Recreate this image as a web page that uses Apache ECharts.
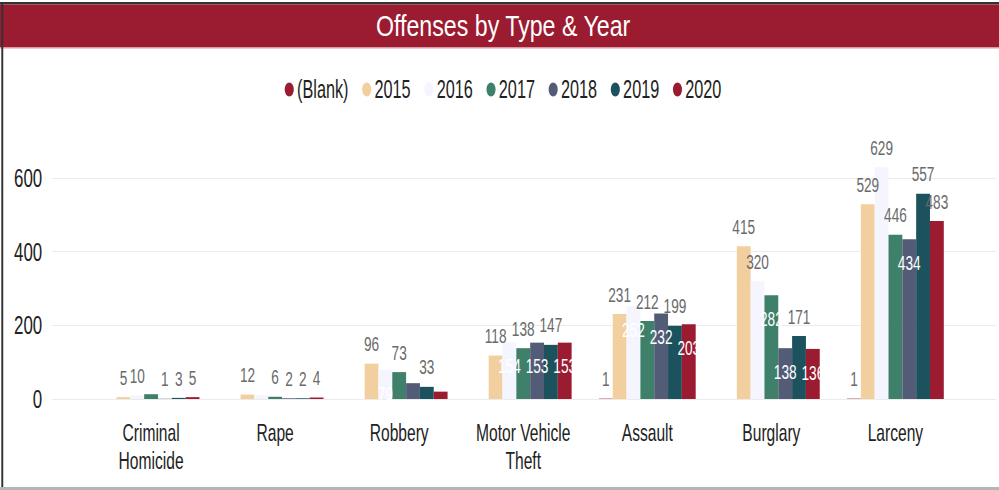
<!DOCTYPE html>
<html>
<head>
<meta charset="utf-8">
<script src="https://cdn.jsdelivr.net/npm/echarts@6/dist/echarts.min.js"></script>
<style>
html,body{margin:0;padding:0;background:#fff;overflow:hidden;width:999px;height:490px;}
#wrap{width:999px;height:490px;overflow:hidden;position:relative;}
#chart{width:1537px;height:490px;transform:scaleX(0.65);transform-origin:0 0;position:absolute;left:0;top:0;}
</style>
</head>
<body>
<div id="wrap"><div id="chart"></div></div>
<script>
// ---- data ----
const categories = ['Criminal\nHomicide', 'Rape', 'Robbery', 'Motor Vehicle\nTheft', 'Assault', 'Burglary', 'Larceny'];
const seriesNames = ['(Blank)', '2015', '2016', '2017', '2018', '2019', '2020'];
const valuesBlank = [null, null, null, null, 1, null, 1];
const values2015 = [5, 12, 96, 118, 231, 415, 529];
const values2016 = [10, 11, 79, 154, 252, 320, 629];
const values2017 = [13, 6, 73, 138, 212, 282, 446];
const values2018 = [1, 2, 43, 153, 232, 138, 434];
const values2019 = [3, 2, 33, 147, 199, 171, 557];
const values2020 = [5, 4, 20, 153, 203, 136, 483];
const yTicks = [0, 200, 400, 600];
const titleText = 'Offenses by Type & Year';

// label modes per series: t = above bar, i = inside top, - = hidden
const labelModes = ['----t-t', 'ttttttt', 't-iiitt', '-ttttit', 'tt-iiii', 'ttttttt', 'tt-iiit'];
const colors = ['#9B1B30', '#F2CF9E', '#F5F5FF', '#3E8069', '#535C77', '#1B525D', '#9B1B30'];

const allValues = [valuesBlank, values2015, values2016, values2017, values2018, values2019, values2020];

const W = 1537; // wide canvas, compressed horizontally by CSS
const ellipse = 'path://M50,0 A50,50 0 1,1 50,100 A50,50 0 1,1 50,0 Z';

const series = seriesNames.map((name, si) => ({
  name: name,
  type: 'bar',
  xAxisIndex: 0,
  yAxisIndex: 0,
  barGap: '0%',
  barCategoryGap: '22%',
  clip: false,
  itemStyle: { color: colors[si] },
  data: allValues[si].map((v, ci) => {
    const m = labelModes[si][ci];
    const lab = m === 't'
      ? { show: true, position: 'top', distance: 9, color: '#6A6A6A', fontSize: 21 }
      : m === 'i'
        ? { show: true, position: 'insideTop', distance: 13, color: '#FFFFFF', fontSize: 21 }
        : { show: false };
    return { value: v, label: lab };
  }),
  label: { fontFamily: 'Liberation Sans, Arial, sans-serif' },
  emphasis: { disabled: true }
}));

const chart = echarts.init(document.getElementById('chart'), null, { renderer: 'svg', width: W, height: 490 });
chart.setOption({
  animation: false,
  textStyle: { fontFamily: 'Liberation Sans, Arial, sans-serif' },
  color: colors,
  graphic: [
    { type: 'rect', shape: { x: 0, y: 2, width: W, height: 2.5 }, style: { fill: '#333' }, silent: true },
    { type: 'rect', shape: { x: 0, y: 4.5, width: W, height: 42.5 }, style: { fill: '#9B1B30' }, silent: true },
    { type: 'rect', shape: { x: 0, y: 47, width: W, height: 1.5 }, style: { fill: '#D99AA5' }, silent: true },
    { type: 'rect', shape: { x: 2, y: 2, width: 3, height: 486 }, style: { fill: '#333' }, silent: true },
    { type: 'rect', shape: { x: 0, y: 487, width: W, height: 3 }, style: { fill: '#B5B5B5' }, silent: true },
    {
      type: 'text', x: 774, y: 26, scaleX: 1.19, silent: true,
      style: { text: titleText, x: 0, y: 0, align: 'center', verticalAlign: 'middle',
               fill: '#FFFFFF', fontSize: 30, fontFamily: 'Liberation Sans, Arial, sans-serif' }
    }
  ],
  legend: {
    data: seriesNames,
    left: 433,
    top: 72,
    icon: ellipse,
    itemWidth: 14,
    itemHeight: 16,
    itemGap: 21,
    textStyle: { fontSize: 25, color: '#222' },
    selectedMode: false
  },
  grid: [
    { left: 137, right: 64, top: 178, bottom: 91 },
    { left: 80, right: 5, top: 178, bottom: 91 }
  ],
  xAxis: [
    {
      type: 'category', gridIndex: 0, data: categories,
      axisLine: { show: false }, axisTick: { show: false },
      axisLabel: { fontSize: 24, lineHeight: 28, color: '#222', margin: 20, interval: 0 }
    },
    { type: 'value', gridIndex: 1, show: false, min: 0, max: 1 }
  ],
  yAxis: [
    { type: 'value', gridIndex: 0, min: 0, max: 600, interval: 200, show: false, splitLine: { show: false } },
    {
      type: 'value', gridIndex: 1, min: yTicks[0], max: yTicks[yTicks.length - 1], interval: 200,
      axisLine: { show: false }, axisTick: { show: false },
      axisLabel: { fontSize: 26, color: '#222', margin: 15 },
      splitLine: { lineStyle: { color: '#EBEBEB', width: 1.2 } }
    }
  ],
  series: series
});
</script>
</body>
</html>
